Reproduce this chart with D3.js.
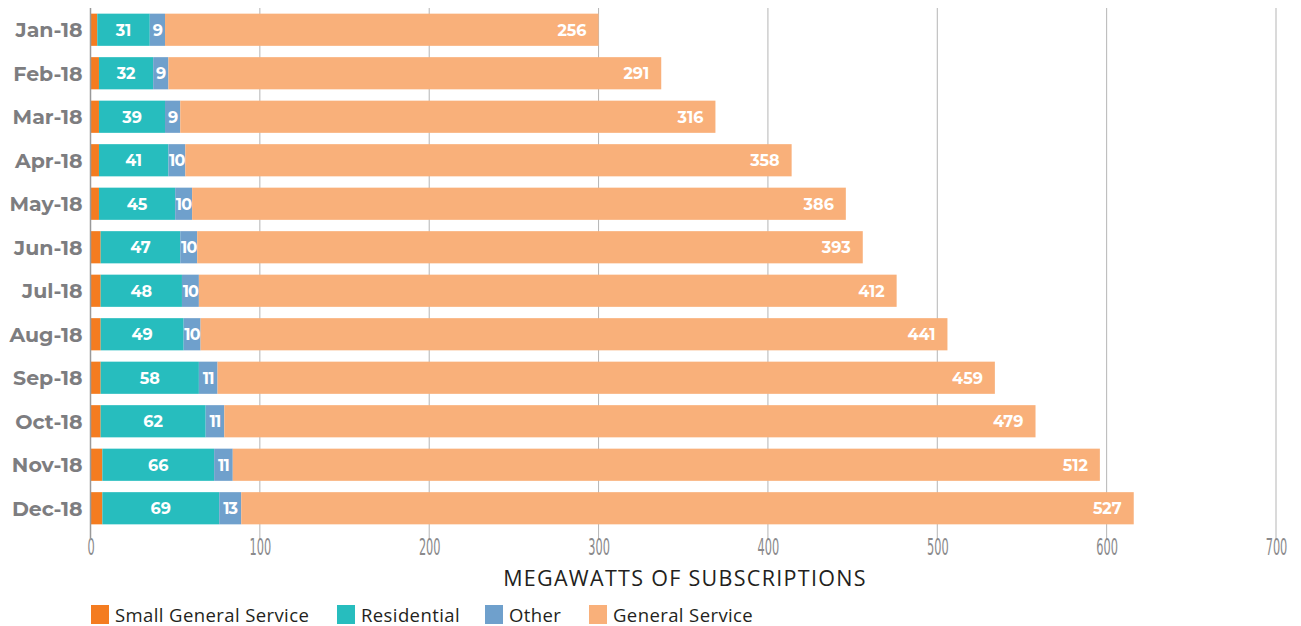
<!DOCTYPE html>
<html>
<head>
<meta charset="utf-8">
<script src="https://cdn.jsdelivr.net/npm/d3@7"></script>
<style>
  body { margin: 0; background: #fff; }
</style>
</head>
<body>
<section></section>
<script>
// datos
var meses = ["Jan-18","Feb-18","Mar-18","Apr-18","May-18","Jun-18","Jul-18","Aug-18","Sep-18","Oct-18","Nov-18","Dec-18"]
var smallGeneral = [4, 5, 5, 5, 5, 6, 6, 6, 6, 6, 7, 7]
var residential = [31, 32, 39, 41, 45, 47, 48, 49, 58, 62, 66, 69]
var other = [9, 9, 9, 10, 10, 10, 10, 10, 11, 11, 11, 13]
var generalService = [256, 291, 316, 358, 386, 393, 412, 441, 459, 479, 512, 527]
var ticksX = [0, 100, 200, 300, 400, 500, 600, 700]

var series = ["Small General Service", "Residential", "Other", "General Service"]
var colores = ["#f47c20", "#27bdbe", "#6fa0cc", "#f9b07a"]

var width = 1301
var height = 626
var margin = { top: 8, bottom: 96, left: 90.5, right: 25 }

var datos = meses.map(function (m, i) {
    return {
        mes: m,
        "Small General Service": smallGeneral[i],
        "Residential": residential[i],
        "Other": other[i],
        "General Service": generalService[i]
    }
})

var svg = d3.select("section")
    .append("svg")
    .attr("width", width)
    .attr("height", height)

var escalaX = d3.scaleLinear()
    .domain([0, 700])
    .range([margin.left, width - margin.right])

var escalaY = d3.scaleBand()
    .domain(meses)
    .range([margin.top, height - margin.bottom])
    .paddingInner(0.26)
    .paddingOuter(0.13)

// lineas de la rejilla
svg.append("g")
    .selectAll("line")
    .data(ticksX.slice(1))
    .join("line")
    .attr("x1", d => escalaX(d)).attr("x2", d => escalaX(d))
    .attr("y1", margin.top).attr("y2", height - margin.bottom + 10)
    .attr("stroke", "#b5b5b5")
    .attr("stroke-width", 1)

// eje X (numeros estrechos)
var ejeX = d3.axisBottom(escalaX).tickValues(ticksX).tickSize(0).tickPadding(0)
var gx = svg.append("g")
    .attr("transform", "translate(0," + (height - margin.bottom + 24.5) + ")")
    .call(ejeX)
gx.select(".domain").remove()
gx.selectAll("text")
    .attr("dy", "0")
    .attr("y", 0)
    .attr("transform", "scale(0.56,1)")
    .attr("font-family", "'DejaVu Sans Condensed', 'DejaVu Sans', sans-serif")
    .attr("font-size", 22.5)
    .attr("fill", "#8a8a8c")

var apilado = d3.stack().keys(series)(datos)

var capas = svg.append("g")
    .selectAll("g")
    .data(apilado)
    .join("g")
    .attr("fill", (d, i) => colores[i])

capas.selectAll("rect")
    .data(d => d)
    .join("rect")
    .attr("x", d => escalaX(d[0]))
    .attr("width", d => escalaX(d[1]) - escalaX(d[0]))
    .attr("y", d => escalaY(d.data.mes))
    .attr("height", escalaY.bandwidth())

// eje vertical
svg.append("line")
    .attr("x1", escalaX(0)).attr("x2", escalaX(0))
    .attr("y1", margin.top).attr("y2", height - margin.bottom + 10)
    .attr("stroke", "#999")
    .attr("stroke-width", 1.5)

// etiquetas de valores
var fuente = "Montserrat, 'Open Sans', 'DejaVu Sans', sans-serif"
apilado.forEach(function (capa, k) {
    if (k === 0) return
    svg.append("g")
        .selectAll("text")
        .data(capa)
        .join("text")
        .attr("x", d => k === 3 ? escalaX(d[1]) - 12 : (escalaX(d[0]) + escalaX(d[1])) / 2)
        .attr("y", d => escalaY(d.data.mes) + escalaY.bandwidth() / 2)
        .attr("dy", "0.36em")
        .attr("text-anchor", k === 3 ? "end" : "middle")
        .attr("font-family", fuente)
        .attr("font-weight", "bold")
        .attr("font-size", 16)
        .attr("fill", "#fff")
        .attr("letter-spacing", k === 2 ? "-0.8px" : "0px")
        .text(d => d[1] - d[0])
})

// etiquetas de meses
svg.append("g")
    .selectAll("text")
    .data(meses)
    .join("text")
    .attr("x", margin.left - 8)
    .attr("y", d => escalaY(d) + escalaY.bandwidth() / 2)
    .attr("dy", "0.36em")
    .attr("text-anchor", "end")
    .attr("font-family", fuente)
    .attr("font-weight", "bold")
    .attr("font-size", 20.5)
    .attr("fill", "#7d7d80")
    .text(d => d)

// titulo del eje
svg.append("text")
    .attr("x", 685)
    .attr("y", 586)
    .attr("text-anchor", "middle")
    .attr("font-family", "'Open Sans', sans-serif")
    .attr("font-weight", 500)
    .attr("font-size", 21.5)
    .attr("letter-spacing", "1.3px")
    .attr("fill", "#231f20")
    .text("MEGAWATTS OF SUBSCRIPTIONS")

// leyenda
var posLeyenda = [91, 337, 485, 589]
var leyenda = svg.append("g")
    .selectAll("g")
    .data(series)
    .join("g")
    .attr("transform", (d, i) => "translate(" + posLeyenda[i] + ",605)")
leyenda.append("rect")
    .attr("width", 18).attr("height", 19)
    .attr("fill", (d, i) => colores[i])
leyenda.append("text")
    .attr("x", 24)
    .attr("y", 17)
    .attr("font-family", "'Open Sans', sans-serif")
    .attr("font-size", 18.5)
    .attr("letter-spacing", "0.4px")
    .attr("fill", "#231f20")
    .text(d => d)
</script>
</body>
</html>
